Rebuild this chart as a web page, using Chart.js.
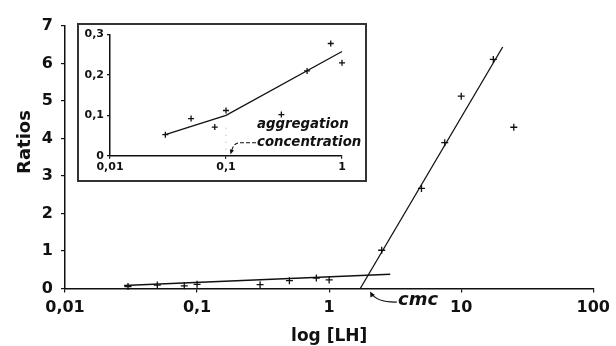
<!DOCTYPE html>
<html>
<head>
<meta charset="utf-8">
<script src="https://cdn.jsdelivr.net/npm/chart.js@4.4.1/dist/chart.umd.min.js"></script>
<style>
  body { margin: 0; background: #fff; }
  canvas { display: block; }
  #wrap { position: relative; width: 616px; height: 346px; }
  #inset { position: absolute; left: 77px; top: 23px; width: 286px; height: 155px; border: 2px solid #333; background: #fff; }
</style>
</head>
<body>
<div id="wrap">
  <canvas id="mainChart" width="616" height="346"></canvas>
  <div id="inset"><canvas id="insetChart" width="286" height="155"></canvas></div>
</div>
<script>
// measured points, below and above the cmc
const lowConc = [0.03, 0.05, 0.08, 0.1, 0.3, 0.5, 0.8, 1];
const lowRatio = [0.052, 0.092, 0.071, 0.112, 0.102, 0.21, 0.278, 0.23];
const highConc = [2.5, 5, 7.5, 10, 17.5, 25];
const highRatio = [1.02, 2.67, 3.89, 5.13, 6.11, 4.3];

// fitted lines
const flatFitX = [0.028, 2.9];
const flatFitY = [0.08, 0.38];
const steepFitX = [1.72, 20.6];
const steepFitY = [0, 6.44];
const insetFitX = [0.03, 0.1, 1];
const insetFitY = [0.052, 0.1, 0.258];

const mainXTicks = [0.01, 0.1, 1, 10, 100];
const mainYTicks = [0, 1, 2, 3, 4, 5, 6, 7];
const insetXTicks = [0.01, 0.1, 1];
const insetYTicks = [0, 0.1, 0.2, 0.3];

const INK = '#111';
const FONT = '"DejaVu Sans", sans-serif';

function toPoints(xs, ys) {
  return xs.map((x, i) => ({ x: x, y: ys[i] }));
}

function comma(v) {
  return String(v).replace('.', ',');
}

function fixTicks(list) {
  return function (scale) {
    scale.ticks = list.map(v => ({ value: v }));
  };
}

function axis(opts) {
  return {
    type: opts.type,
    min: opts.min,
    max: opts.max,
    afterBuildTicks: fixTicks(opts.ticks),
    afterFit: function (scale) {
      if (opts.width) scale.width = opts.width;
      if (opts.height) scale.height = opts.height;
    },
    grid: { display: true, drawOnChartArea: false, drawTicks: true, tickLength: opts.tickLength, color: INK, lineWidth: 1.2 },
    border: { display: true, color: INK, width: 1.5 },
    ticks: {
      color: INK,
      padding: opts.pad,
      maxRotation: 0,
      autoSkip: false,
      font: { family: FONT, weight: 'bold', size: opts.fontSize },
      callback: v => comma(v)
    },
    title: opts.title || { display: false }
  };
}

function arrowHead(ctx, fromX, fromY, toX, toY, size) {
  const a = Math.atan2(toY - fromY, toX - fromX);
  ctx.beginPath();
  ctx.moveTo(toX, toY);
  ctx.lineTo(toX - size * Math.cos(a - 0.45), toY - size * Math.sin(a - 0.45));
  ctx.lineTo(toX - size * Math.cos(a + 0.45), toY - size * Math.sin(a + 0.45));
  ctx.closePath();
  ctx.fill();
}

const mainNotes = {
  id: 'mainNotes',
  afterDraw(chart) {
    const ctx = chart.ctx;
    const area = chart.chartArea;
    ctx.save();
    ctx.fillStyle = INK;
    ctx.strokeStyle = INK;

    // y title sits a bit above the axis middle in the original
    ctx.save();
    ctx.translate(25, 142);
    ctx.rotate(-Math.PI / 2);
    ctx.font = 'bold 18px ' + FONT;
    ctx.textAlign = 'center';
    ctx.textBaseline = 'middle';
    ctx.fillText('Ratios', 0, 0);
    ctx.restore();

    // cmc label with curved arrow
    const b = area.bottom;
    ctx.lineWidth = 1.2;
    ctx.beginPath();
    ctx.moveTo(397, b + 13.5);
    ctx.quadraticCurveTo(377, b + 14, 371.5, b + 5);
    ctx.stroke();
    arrowHead(ctx, 374, b + 10, 370, b + 3, 6);
    ctx.font = 'italic bold 18px ' + FONT;
    ctx.textAlign = 'left';
    ctx.textBaseline = 'alphabetic';
    ctx.fillText('cmc', 398, b + 16.5);
    ctx.restore();
  }
};

const insetNotes = {
  id: 'insetNotes',
  afterDraw(chart) {
    const ctx = chart.ctx;
    const b = chart.chartArea.bottom;
    const x0 = chart.scales.x.getPixelForValue(0.1);
    ctx.save();
    ctx.fillStyle = INK;
    ctx.strokeStyle = INK;

    // faint dotted guide at 0,1
    ctx.save();
    ctx.strokeStyle = '#bbb';
    ctx.setLineDash([1, 6]);
    ctx.beginPath();
    ctx.moveTo(x0, b - 28);
    ctx.lineTo(x0, b - 3);
    ctx.stroke();
    ctx.restore();

    ctx.font = 'italic bold 13.3px ' + FONT;
    ctx.textAlign = 'left';
    ctx.textBaseline = 'alphabetic';
    ctx.fillText('aggregation', x0 + 31, b - 27.4);
    ctx.fillText('concentration', x0 + 31, b - 9.7);

    ctx.lineWidth = 1.1;
    ctx.setLineDash([4, 2]);
    ctx.beginPath();
    ctx.moveTo(x0 + 30, b - 13);
    ctx.lineTo(x0 + 13, b - 13);
    ctx.quadraticCurveTo(x0 + 7, b - 12, x0 + 5.5, b - 4);
    ctx.stroke();
    ctx.setLineDash([]);
    arrowHead(ctx, x0 + 7, b - 9, x0 + 4.5, b - 1.5, 5);
    ctx.restore();
  }
};

function markSet(points, r) {
  return {
    data: points,
    pointStyle: 'cross',
    pointRadius: r,
    borderColor: INK,
    borderWidth: 1.3,
    showLine: false,
    clip: false
  };
}

function lineSet(points) {
  return {
    data: points,
    showLine: true,
    pointRadius: 0,
    borderColor: INK,
    borderWidth: 1.3,
    tension: 0,
    fill: false,
    clip: false
  };
}

new Chart(document.getElementById('mainChart').getContext('2d'), {
  type: 'scatter',
  data: {
    datasets: [
      markSet(toPoints(lowConc, lowRatio).concat(toPoints(highConc, highRatio)), 3.5),
      lineSet(toPoints(flatFitX, flatFitY)),
      lineSet(toPoints(steepFitX, steepFitY))
    ]
  },
  options: {
    responsive: false,
    animation: false,
    events: [],
    layout: { padding: { top: 26, right: 18, left: 0, bottom: 0 } },
    plugins: { legend: { display: false }, tooltip: { enabled: false } },
    scales: {
      x: axis({
        type: 'logarithmic', min: 0.01, max: 100, ticks: mainXTicks,
        height: 57.5, tickLength: 4, pad: 6, fontSize: 16,
        title: {
          display: true, text: 'log [LH]', color: INK,
          font: { family: FONT, weight: 'bold', size: 17, lineHeight: 1 },
          padding: { top: 0, bottom: 1 }
        }
      }),
      y: axis({
        type: 'linear', min: 0, max: 7, ticks: mainYTicks,
        width: 65, tickLength: 4, pad: 8, fontSize: 16
      })
    }
  },
  plugins: [mainNotes]
});

new Chart(document.getElementById('insetChart').getContext('2d'), {
  type: 'scatter',
  data: {
    datasets: [
      markSet(toPoints(lowConc, lowRatio), 3),
      lineSet(toPoints(insetFitX, insetFitY))
    ]
  },
  options: {
    responsive: false,
    animation: false,
    events: [],
    layout: { padding: { top: 8, right: 23, left: 0, bottom: 0 } },
    plugins: { legend: { display: false }, tooltip: { enabled: false } },
    scales: {
      x: axis({
        type: 'logarithmic', min: 0.01, max: 1, ticks: insetXTicks,
        height: 24.3, tickLength: 3, pad: 2, fontSize: 11
      }),
      y: axis({
        type: 'linear', min: 0, max: 0.3, ticks: insetYTicks,
        width: 31, tickLength: 3, pad: 3, fontSize: 11
      })
    }
  },
  plugins: [insetNotes]
});
</script>
</body>
</html>
